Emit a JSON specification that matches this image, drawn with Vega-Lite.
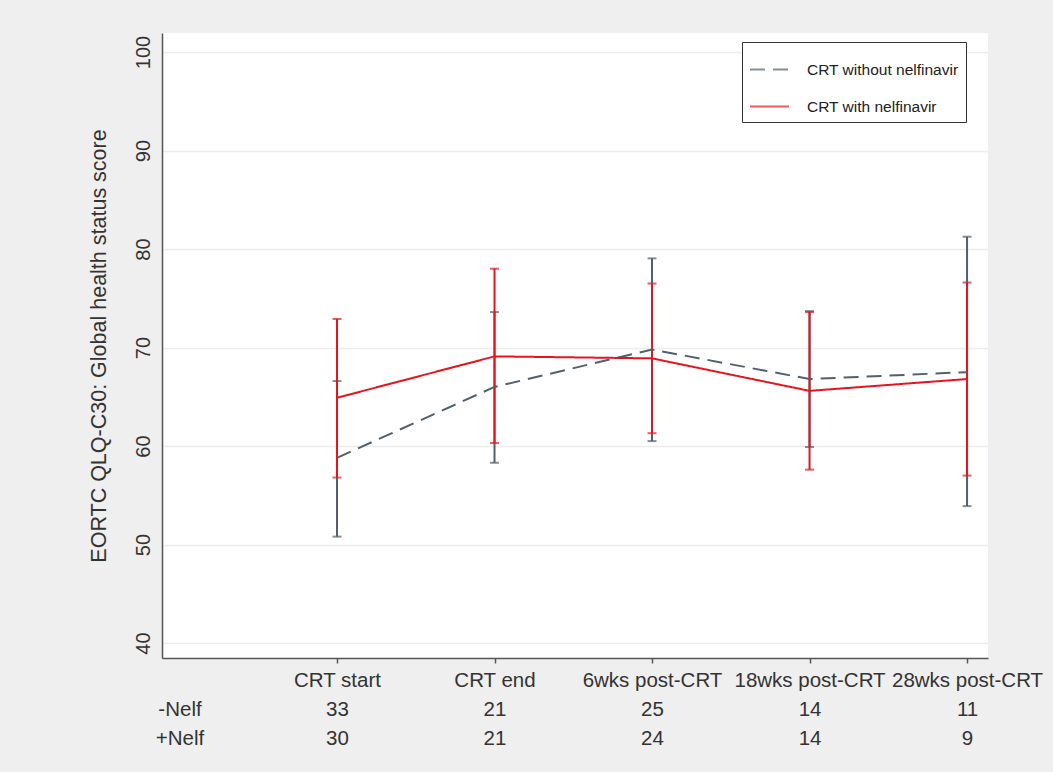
{
  "$schema": "https://vega.github.io/schema/vega-lite/v6.json",
  "width": 826,
  "height": 625,
  "autosize": {"type": "none"},
  "padding": {"left": 162, "top": 33, "right": 65, "bottom": 114},
  "background": "#efefef",
  "view": {"fill": "white", "stroke": null},
  "config": {
    "font": "Liberation Sans",
    "axis": {"labelFont": "Liberation Sans", "titleFont": "Liberation Sans", "labelColor": "#333333", "titleColor": "#333333", "domainColor": "#555555", "domainWidth": 1.5, "tickColor": "#555555"},
    "legend": {"labelFont": "Liberation Sans"}
  },
  "data": {
    "values": [
      {"t": 1, "group": "CRT without nelfinavir", "mean": 58.8, "lo": 50.8, "hi": 66.6},
      {"t": 2, "group": "CRT without nelfinavir", "mean": 66.0, "lo": 58.3, "hi": 73.6},
      {"t": 3, "group": "CRT without nelfinavir", "mean": 69.8, "lo": 60.5, "hi": 79.05},
      {"t": 4, "group": "CRT without nelfinavir", "mean": 66.8, "lo": 59.9, "hi": 73.7},
      {"t": 5, "group": "CRT without nelfinavir", "mean": 67.5, "lo": 53.9, "hi": 81.25},
      {"t": 1, "group": "CRT with nelfinavir", "mean": 64.9, "lo": 56.8, "hi": 72.9},
      {"t": 2, "group": "CRT with nelfinavir", "mean": 69.1, "lo": 60.3, "hi": 78.0},
      {"t": 3, "group": "CRT with nelfinavir", "mean": 68.9, "lo": 61.3, "hi": 76.5},
      {"t": 4, "group": "CRT with nelfinavir", "mean": 65.6, "lo": 57.6, "hi": 73.6},
      {"t": 5, "group": "CRT with nelfinavir", "mean": 66.8, "lo": 57.0, "hi": 76.6}
    ]
  },
  "encoding": {
    "x": {
      "field": "t",
      "type": "quantitative",
      "scale": {"domain": [-0.111, 5.133], "nice": false, "zero": false},
      "axis": {
        "title": null,
        "values": [0, 1, 2, 3, 4, 5],
        "grid": false,
        "tickSize": 5,
        "tickWidth": 1.5,
        "tickOpacity": {"condition": {"test": "datum.value == 0", "value": 0}, "value": 1},
        "labelFontSize": 20.5,
        "labelPadding": 7,
        "labelLineHeight": 29,
        "labelBaseline": "top",
        "labelAlign": "center",
        "labelOverlap": false,
        "labelFlush": false,
        "labelExpr": "datum.value == 0 ? [' ', '-Nelf', '+Nelf'] : datum.value == 1 ? ['CRT start', '33', '30'] : datum.value == 2 ? ['CRT end', '21', '21'] : datum.value == 3 ? ['6wks post-CRT', '25', '24'] : datum.value == 4 ? ['18wks post-CRT', '14', '14'] : ['28wks post-CRT', '11', '9']"
      }
    },
    "color": {
      "field": "group",
      "type": "nominal",
      "scale": {"domain": ["CRT without nelfinavir", "CRT with nelfinavir"], "range": ["#52606b", "#e8141c"]},
      "legend": {
        "orient": "none",
        "legendX": 580,
        "legendY": 9,
        "title": null,
        "fillColor": "white",
        "strokeColor": "#333333",
        "padding": 7,
        "labelFontSize": 15.5,
        "labelColor": "#222222",
        "labelOffset": 17,
        "symbolType": "stroke",
        "symbolSize": 1521,
        "symbolStrokeWidth": 2,
        "rowPadding": 8
      }
    }
  },
  "layer": [
    {
      "mark": {"type": "errorbar", "ticks": {"size": 9, "thickness": 2}, "rule": {"strokeWidth": 2}},
      "encoding": {
        "y": {
          "field": "lo",
          "type": "quantitative",
          "scale": {"domain": [38.48, 101.93], "nice": false, "zero": false},
          "axis": {
            "title": "EORTC QLQ-C30: Global health status score",
            "titleFontSize": 21.5,
            "titleFontWeight": "normal",
            "titlePadding": 23,
            "values": [40, 50, 60, 70, 80, 90, 100],
            "grid": true,
            "gridColor": "#ececec",
            "gridWidth": 1.5,
            "ticks": false,
            "labelAngle": -90,
            "labelAlign": "center",
            "labelBaseline": "bottom",
            "labelFontSize": 20,
            "labelPadding": 9
          }
        },
        "y2": {"field": "hi"}
      }
    },
    {
      "mark": {"type": "line", "strokeWidth": 2},
      "encoding": {
        "y": {"field": "mean", "type": "quantitative"},
        "strokeDash": {
          "field": "group",
          "type": "nominal",
          "scale": {"domain": ["CRT without nelfinavir", "CRT with nelfinavir"], "range": [[15, 8], [1, 0]]},
          "legend": {
            "orient": "none",
            "legendX": 580,
            "legendY": 9,
            "title": null,
            "fillColor": "white",
            "strokeColor": "#333333",
            "padding": 7,
            "labelFontSize": 15.5,
            "labelColor": "#222222",
            "labelOffset": 17,
            "symbolType": "stroke",
            "symbolSize": 1521,
            "symbolStrokeWidth": 2,
            "rowPadding": 8
          }
        }
      }
    }
  ]
}
